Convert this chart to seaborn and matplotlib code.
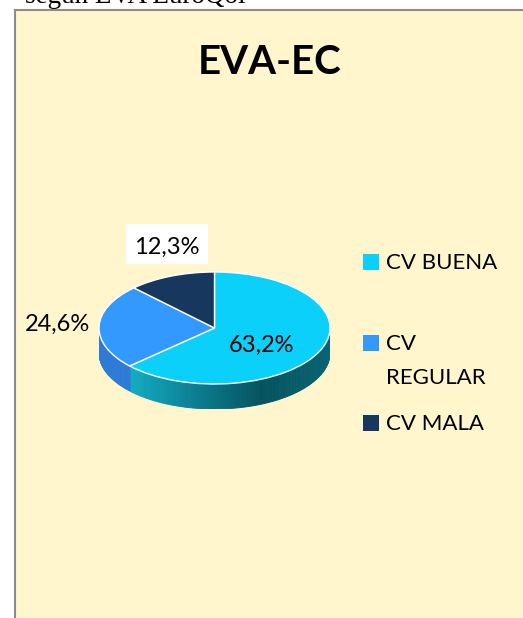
#!/usr/bin/env python3
"""EVA-EC pie chart with a fake 3D wall, on a cream panel."""

import numpy as np
import matplotlib
matplotlib.use('Agg')
import matplotlib.pyplot as plt
from matplotlib.colors import LinearSegmentedColormap
from matplotlib.patches import Rectangle
import seaborn as sns

# Data
categories = ['CV BUENA', 'CV REGULAR', 'CV MALA']
legend_labels = ['CV BUENA', 'CV\nREGULAR', 'CV MALA']
values = [63.2, 24.6, 12.3]
value_labels = ['63,2%', '24,6%', '12,3%']
title = 'EVA-EC'
caption = 'según EVA EuroQol'

# Colours
slice_colors = ['#0BD0F9', '#3399FF', '#17375E']
panel_color = '#FFF6CE'
border_color = '#8C8C8C'
wall_blue = '#2E7BD6'
wall_cmap = LinearSegmentedColormap.from_list(
    'wall', [(0.0, '#12ABC3'), (0.65, '#045360'), (1.0, '#0A6472')])

W, H = 523, 618
DEPTH = 25
RX, RY = 115.5, 56

sns.set_theme(style='white')
plt.rcParams['font.family'] = ['Lato', 'DejaVu Sans']

fig = plt.figure(figsize=(W / 100, H / 100), dpi=100, facecolor='white')

# Overlay in pixel coordinates for the panel and texts
bg = fig.add_axes([0, 0, 1, 1])
bg.set_xlim(0, W)
bg.set_ylim(H, 0)
bg.axis('off')
bg.add_patch(Rectangle((14.5, 10), W + 20, H + 20, facecolor=panel_color,
                       edgecolor=border_color, linewidth=1.5))
bg.text(25, 3, caption, family='Liberation Serif', fontsize=19.5, color='black',
        ha='left', va='baseline')
bg.text(270, 62, title, fontsize=29, fontweight='bold', color='black',
        ha='center', va='center')

# Pie axes: stretched so the circle turns into an ellipse
left, top = 99, 272
pie_ax = fig.add_axes([left / W, 1 - (top + 2 * RY + DEPTH) / H,
                       2 * RX / W, (2 * RY + DEPTH) / H])
depth_units = DEPTH / RY

# Side wall, only the part facing the viewer
shares = np.array(values) / sum(values)
cut_angle = 90 - 360 * shares[0]  # first slice ends here, clockwise from the top
cut_x = np.cos(np.radians(cut_angle))
theta = np.linspace(0, -180, 181)
for t0, t1 in zip(theta[:-1], theta[1:]):
    x0, x1 = np.cos(np.radians(t0)), np.cos(np.radians(t1))
    y0, y1 = np.sin(np.radians(t0)), np.sin(np.radians(t1))
    mid = (t0 + t1) / 2
    if mid > cut_angle:
        color = wall_cmap(((x0 + x1) / 2 - cut_x) / (1 - cut_x))
    else:
        color = wall_blue
    pie_ax.fill([x0, x1, x1, x0], [y0, y1, y1 - depth_units, y0 - depth_units],
                color=color, linewidth=0.6, edgecolor=color)

wedges, _ = pie_ax.pie(values, colors=slice_colors, startangle=90,
                       counterclock=False, radius=1)
pie_ax.set_aspect('auto')
pie_ax.set_xlim(-1, 1)
pie_ax.set_ylim(-1 - depth_units, 1)
pie_ax.axis('off')

# Value labels
top_ax = fig.add_axes([0, 0, 1, 1])
top_ax.set_xlim(0, W)
top_ax.set_ylim(H, 0)
top_ax.axis('off')
top_ax.patch.set_alpha(0)
top_ax.add_patch(Rectangle((126, 224), 82, 40, facecolor='white', edgecolor='none'))
top_ax.text(261, 345, value_labels[0], fontsize=17, color='black', ha='center', va='center')
top_ax.text(57, 324, value_labels[1], fontsize=17, color='black', ha='center', va='center')
top_ax.text(167, 247, value_labels[2], fontsize=17, color='black', ha='center', va='center')

# Legend
legend_rows = [262, 343, 423]
for label, color, y in zip(legend_labels, slice_colors, legend_rows):
    top_ax.add_patch(Rectangle((363, y - 8), 16, 16, facecolor=color, edgecolor='none'))
    top_ax.text(386, y - 9, label, fontsize=16, color='black', ha='left', va='top',
                linespacing=1.85)

fig.savefig('out.png', dpi=100)
plt.close(fig)
